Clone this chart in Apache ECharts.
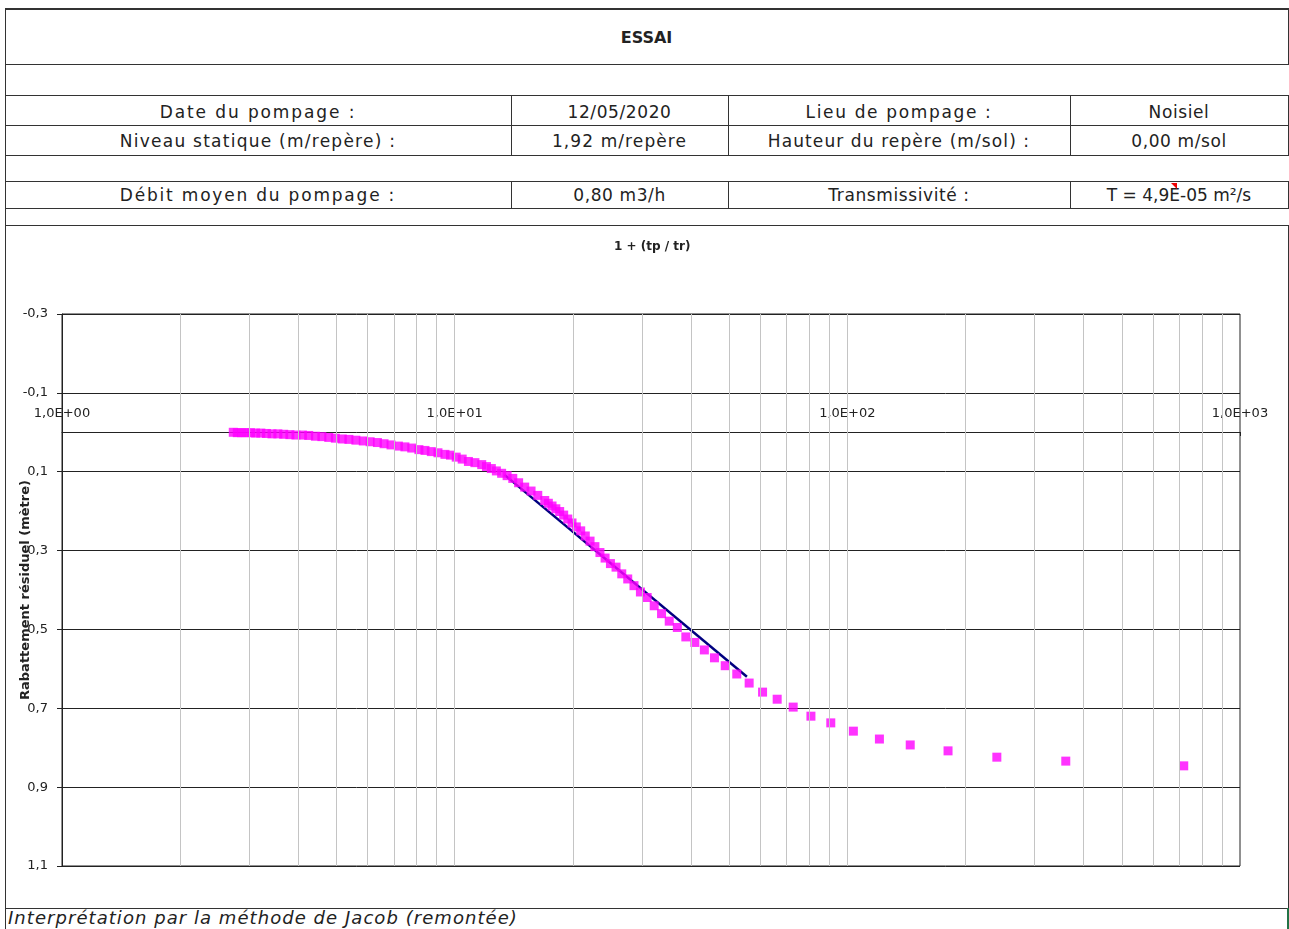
<!DOCTYPE html>
<html>
<head>
<meta charset="utf-8">
<script src="https://cdn.jsdelivr.net/npm/echarts@6/dist/echarts.min.js"></script>
<style>
  html, body { margin: 0; padding: 0; background: #fff; }
  body { width: 1289px; height: 929px; position: relative; overflow: hidden;
         font-family: "DejaVu Sans", sans-serif; color: #222; }
  .hl { position: absolute; height: 0; border-top: 1px solid #333; }
  .vl { position: absolute; width: 0; border-left: 1px solid #333; }
  .cell { position: absolute; text-align: center; font-size: 17px; letter-spacing: 0.6px; white-space: nowrap; }
  #chartBox { position: absolute; left: 6px; top: 226px; width: 1281px; height: 681px; }
</style>
</head>
<body>
<!-- cadre -->
<div class="hl" style="left:5px;top:8px;width:1284px;border-top-width:2px"></div>
<div class="hl" style="left:5px;top:64px;width:1284px"></div>
<div class="hl" style="left:5px;top:95px;width:1284px"></div>
<div class="hl" style="left:5px;top:125px;width:1284px"></div>
<div class="hl" style="left:5px;top:155px;width:1284px"></div>
<div class="hl" style="left:5px;top:181px;width:1284px"></div>
<div class="hl" style="left:5px;top:208px;width:1284px"></div>
<div class="hl" style="left:5px;top:225px;width:1284px"></div>
<div class="hl" style="left:5px;top:908px;width:1284px"></div>
<div class="vl" style="left:5px;top:8px;height:921px"></div>
<div class="vl" style="left:1288px;top:8px;height:56px"></div>
<div class="vl" style="left:1288px;top:95px;height:60px"></div>
<div class="vl" style="left:1288px;top:181px;height:27px"></div>
<div class="vl" style="left:1288px;top:225px;height:683px"></div>
<div class="vl" style="left:1287px;top:908px;height:21px;border-left:2px solid #217346"></div>
<div class="vl" style="left:511px;top:95px;height:60px"></div>
<div class="vl" style="left:728px;top:95px;height:60px"></div>
<div class="vl" style="left:1070px;top:95px;height:60px"></div>
<div class="vl" style="left:511px;top:181px;height:27px"></div>
<div class="vl" style="left:728px;top:181px;height:27px"></div>
<div class="vl" style="left:1070px;top:181px;height:27px"></div>

<div class="cell" style="left:5px;top:28px;width:1283px;font-weight:bold;font-size:16px;letter-spacing:0">ESSAI</div>

<div class="cell" style="left:5px;top:102px;width:506px;letter-spacing:1.9px">Date du pompage :</div>
<div class="cell" style="left:511px;top:102px;width:217px">12/05/2020</div>
<div class="cell" style="left:728px;top:102px;width:342px;letter-spacing:1.65px">Lieu de pompage :</div>
<div class="cell" style="left:1070px;top:102px;width:218px">Noisiel</div>

<div class="cell" style="left:5px;top:131px;width:506px;letter-spacing:1.25px">Niveau statique (m/repère) :</div>
<div class="cell" style="left:511px;top:131px;width:217px;letter-spacing:1.1px">1,92 m/repère</div>
<div class="cell" style="left:728px;top:131px;width:342px;letter-spacing:1.1px">Hauteur du repère (m/sol) :</div>
<div class="cell" style="left:1070px;top:131px;width:218px">0,00 m/sol</div>

<div class="cell" style="left:5px;top:185px;width:506px;letter-spacing:1.8px">Débit moyen du pompage :</div>
<div class="cell" style="left:511px;top:185px;width:217px">0,80 m3/h</div>
<div class="cell" style="left:728px;top:185px;width:342px">Transmissivité :</div>
<div class="cell" style="left:1070px;top:185px;width:218px;letter-spacing:0">T = 4,9E-05 m²/s</div>
<div style="position:absolute;left:1171px;top:183px;width:0;height:0;border-top:6px solid #e00;border-left:6px solid transparent"></div>

<div id="chartBox"></div>

<div style="position:absolute;left:8px;top:907px;font-size:18px;letter-spacing:1.05px;font-style:italic;white-space:nowrap">Interprétation par la méthode de Jacob (remontée)</div>

<script>
// 1 + (tp / tr)
const ratio = [719, 360, 240.3, 180.5, 144.6, 120.7, 103.6, 90.75, 80.78, 72.8,
  66.27, 60.83, 56.23, 52.29, 48.87, 45.88, 43.24, 40.89, 38.79, 36.9,
  35.19, 33.64, 32.22, 30.92, 29.72, 28.62, 27.59, 26.64, 25.76, 24.93,
  24.16, 23.44, 22.76, 22.12, 21.51, 20.94, 20.41, 19.9, 19.41, 18.95,
  18.51, 18.1, 17.7, 17.32, 16.96, 16.28, 15.65, 15.08, 14.55, 14.06,
  13.6, 13.17, 12.77, 12.4, 12.05, 11.72, 11.26, 10.84, 10.45, 10.09,
  9.756, 9.447, 9.067, 8.72, 8.402, 8.109, 7.774, 7.469, 7.19, 6.885,
  6.609, 6.358, 6.092, 5.851, 5.603, 5.378, 5.174, 4.967, 4.779, 4.59,
  4.419, 4.249, 4.095, 3.943, 3.805, 3.669, 3.546, 3.426, 3.316, 3.209,
  3.112, 3.023, 2.941, 2.865, 2.795, 2.73];
// rabattement résiduel (m)
const rabattement = [0.846, 0.834, 0.824, 0.808, 0.793, 0.778, 0.758, 0.737, 0.720, 0.697,
  0.677, 0.659, 0.636, 0.613, 0.592, 0.572, 0.552, 0.533, 0.519, 0.495,
  0.479, 0.460, 0.440, 0.419, 0.405, 0.389, 0.372, 0.359, 0.342, 0.333,
  0.319, 0.305, 0.290, 0.276, 0.263, 0.250, 0.240, 0.230, 0.220, 0.210,
  0.201, 0.194, 0.187, 0.180, 0.173, 0.160, 0.149, 0.139, 0.128, 0.117,
  0.110, 0.104, 0.098, 0.092, 0.087, 0.082, 0.077, 0.074, 0.068, 0.063,
  0.058, 0.056, 0.052, 0.049, 0.046, 0.044, 0.040, 0.037, 0.035, 0.032,
  0.029, 0.026, 0.024, 0.022, 0.020, 0.018, 0.017, 0.015, 0.013, 0.011,
  0.010, 0.008, 0.007, 0.007, 0.006, 0.005, 0.004, 0.004, 0.003, 0.002,
  0.002, 0.001, 0.001, 0.001, 0.001, 0.000];
// droite de Jacob
const jacobX = [13.4, 55.5];
const jacobY = [0.108, 0.620];
// graduations
const yTicks = [-0.3, -0.1, 0.1, 0.3, 0.5, 0.7, 0.9, 1.1];
const xGrid = [2, 3, 4, 5, 6, 7, 8, 9, 10, 20, 30, 40, 50, 60, 70, 80, 90, 100,
  200, 300, 400, 500, 600, 700, 800, 900];

const font = "DejaVu Sans";
const chart = echarts.init(document.getElementById("chartBox"));

const option = {
  animation: false,
  title: {
    text: "1 + (tp / tr)",
    left: 603,
    top: 10,
    textStyle: { fontSize: 12, fontWeight: "bold", color: "#222", fontFamily: font },
  },
  grid: { left: 56, right: 47, top: 88, bottom: 41, outerBoundsMode: "none",
    show: true, borderColor: "#222", borderWidth: 1 },
  xAxis: {
    type: "log",
    logBase: 10,
    min: 1,
    max: 1000,
    position: "top",
    // l'axe passe par 0 (axe Y inversé)
    offset: -118,
    axisLine: { onZero: false, lineStyle: { color: "#222", width: 1 } },
    axisTick: { inside: true, length: 4, lineStyle: { color: "#222" } },
    axisLabel: {
      margin: 12,
      color: "#222",
      fontSize: 13,
      fontFamily: font,
      showMinLabel: true,
      showMaxLabel: true,
      formatter: function (v) {
        let e = Math.round(Math.log10(v));
        return "1,0E+" + (e < 10 ? "0" + e : e);
      },
    },
    splitLine: { show: false },
  },
  yAxis: {
    type: "value",
    inverse: true,
    min: -0.3,
    max: 1.1,
    name: "Rabattement résiduel (mètre)",
    nameLocation: "middle",
    nameGap: 30,
    nameMoveOverlap: false,
    nameTextStyle: { fontSize: 13, fontWeight: "bold", color: "#222", fontFamily: font },
    axisLine: { show: true, onZero: false, lineStyle: { color: "#222" } },
    axisTick: { show: true, length: 5, customValues: yTicks, lineStyle: { color: "#222" } },
    axisLabel: {
      customValues: yTicks,
      margin: 14,
      color: "#222",
      fontSize: 13,
      fontFamily: font,
      formatter: function (v) {
        return v.toFixed(1).replace(".", ",");
      },
    },
    splitLine: { show: true, lineStyle: { color: "#222", width: 1 } },
  },
  series: [
    {
      // quadrillage vertical
      type: "line",
      data: [],
      z: 1,
      markLine: {
        silent: true,
        symbol: ["none", "none"],
        label: { show: false },
        lineStyle: { color: "#c4c4c4", width: 1, type: "solid" },
        data: xGrid.map((v) => ({ xAxis: v })),
      },
    },
    {
      type: "line",
      data: jacobX.map((x, i) => [x, jacobY[i]]),
      showSymbol: false,
      symbol: "none",
      z: 2,
      lineStyle: { color: "#000080", width: 2.5 },
    },
    {
      type: "scatter",
      data: ratio.map((x, i) => [x, rabattement[i]]),
      symbol: "rect",
      symbolSize: 9,
      z: 3,
      itemStyle: { color: "#ff00ff" },
    },
  ],
};
chart.setOption(option);
</script>
</body>
</html>
